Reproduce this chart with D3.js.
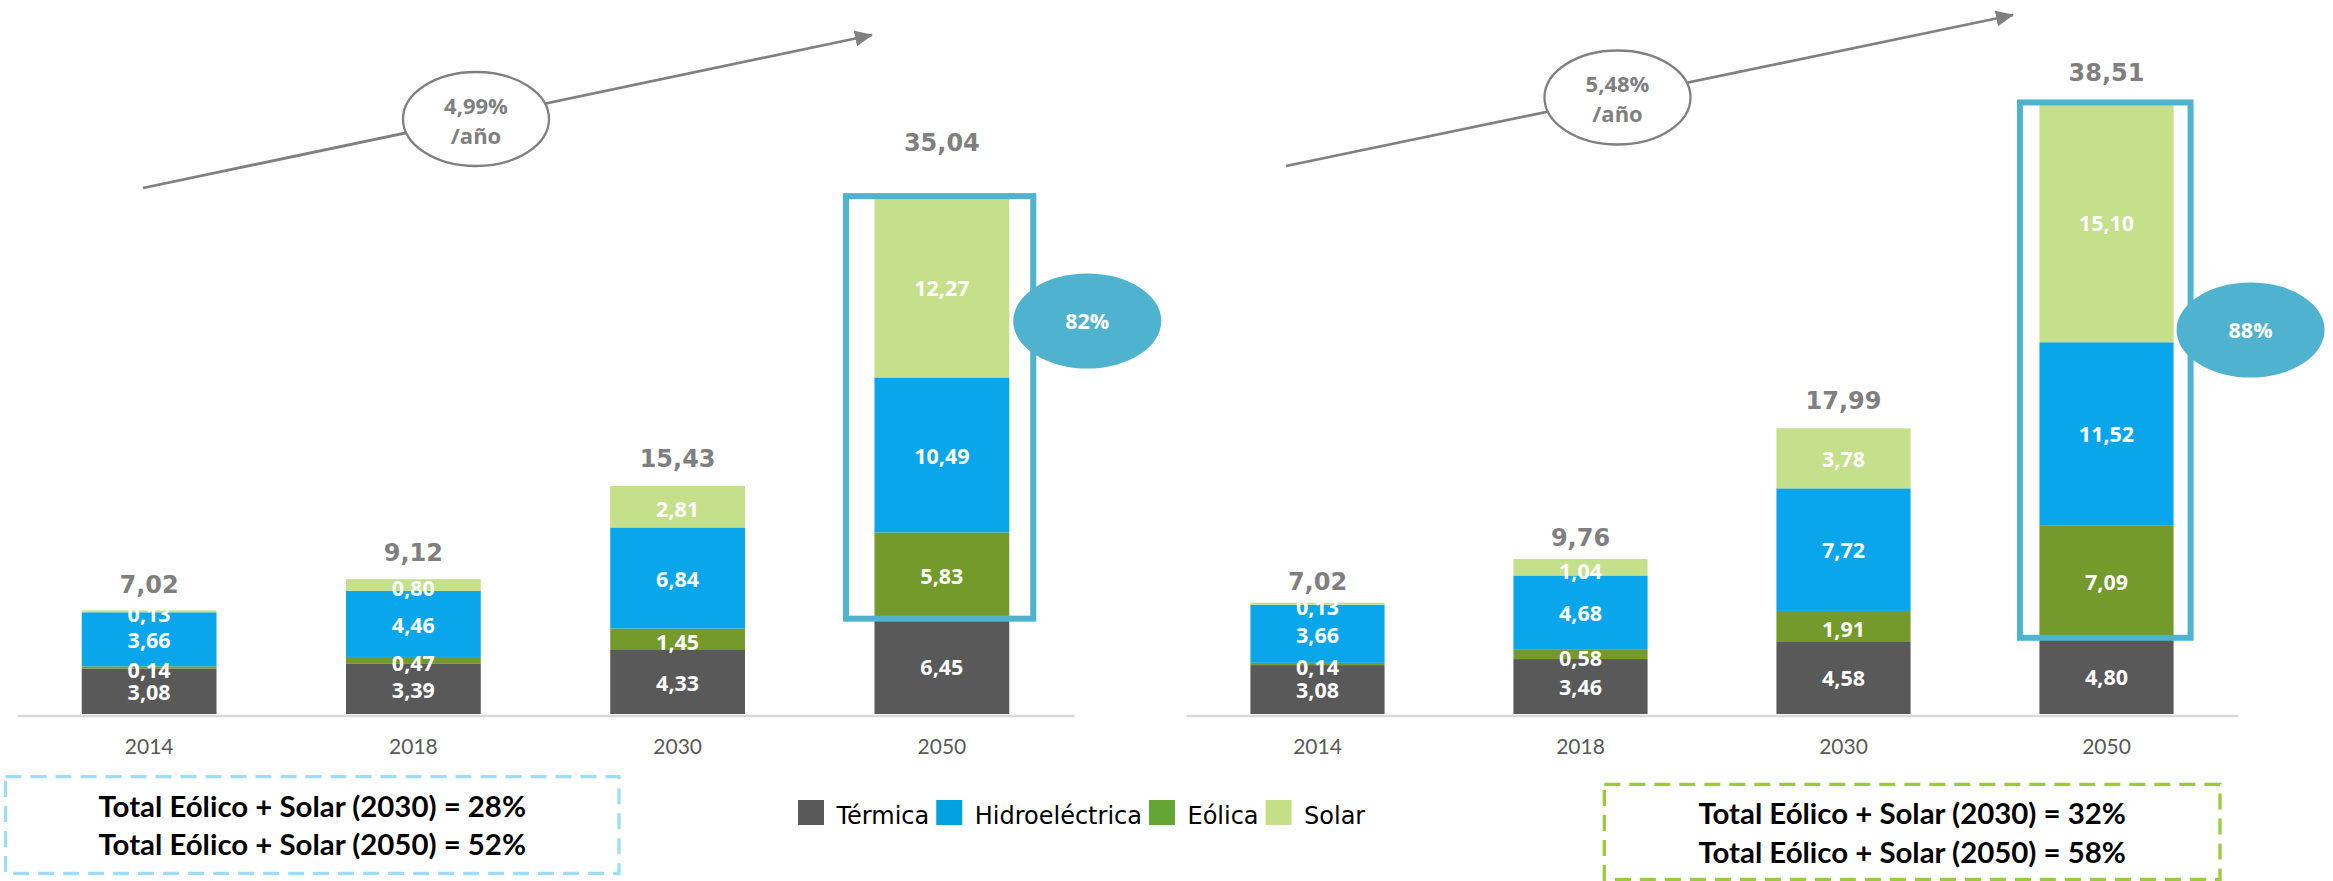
<!DOCTYPE html>
<html>
<head>
<meta charset="utf-8">
<script src="https://cdn.jsdelivr.net/npm/d3@7"></script>
<style>
  html, body { margin: 0; padding: 0; background: #fff; }
  svg { display: block; }
</style>
</head>
<body>
<svg id="chart" width="2333" height="881"></svg>
<script>
// ---------------- DATA ----------------
const years = ["2014", "2018", "2030", "2050"];
const seriesKeys = ["Térmica", "Eólica", "Hidroeléctrica", "Solar"];   // stack order (bottom → top)
const legendKeys = ["Térmica", "Hidroeléctrica", "Eólica", "Solar"];   // legend order

// Scenario A (left)
const termicaA = [3.08, 3.39, 4.33, 6.45];
const eolicaA  = [0.14, 0.47, 1.45, 5.83];
const hidroA   = [3.66, 4.46, 6.84, 10.49];
const solarA   = [0.13, 0.80, 2.81, 12.27];
const totalsA  = [7.02, 9.12, 15.43, 35.04];
const growthA  = ["4,99%", "/año"];
const shareA   = "82%";
const boxTextA = ["Total Eólico + Solar (2030) = 28%", "Total Eólico + Solar (2050) = 52%"];

// Scenario B (right)
const termicaB = [3.08, 3.46, 4.58, 4.80];
const eolicaB  = [0.14, 0.58, 1.91, 7.09];
const hidroB   = [3.66, 4.68, 7.72, 11.52];
const solarB   = [0.13, 1.04, 3.78, 15.10];
const totalsB  = [7.02, 9.76, 17.99, 38.51];
const growthB  = ["5,48%", "/año"];
const shareB   = "88%";
const boxTextB = ["Total Eólico + Solar (2030) = 32%", "Total Eólico + Solar (2050) = 58%"];

// ---------------- STYLE ----------------
const barColors = { "Térmica": "#595959", "Hidroeléctrica": "#0AA6EB", "Eólica": "#739A2B", "Solar": "#C4E08A" };
const legendColors = { "Térmica": "#595959", "Hidroeléctrica": "#00A1E0", "Eólica": "#65A535", "Solar": "#C4DF88" };
const accent = "#4FB3D0";
const greyText = "#7F7F7F";

const locale = d3.formatLocale({ decimal: ",", thousands: ".", grouping: [3], currency: ["", "€"] });
const fmt = locale.format(".2f");

const svg = d3.select("#chart");

function buildRows(t, e, h, s) {
  return years.map((y, i) => ({ year: y, "Térmica": t[i], "Eólica": e[i], "Hidroeléctrica": h[i], "Solar": s[i] }));
}

function drawChart(cfg) {
  const g = svg.append("g");
  const rows = buildRows(cfg.t, cfg.e, cfg.h, cfg.s);
  const x = d3.scaleBand().domain(years).range(cfg.xRange).paddingInner(0.49).paddingOuter(0.245);
  const y = d3.scaleLinear().domain([0, 40]).range([cfg.base, cfg.base - 40 * cfg.pxPerUnit]);
  const stacked = d3.stack().keys(seriesKeys)(rows);

  // baseline axis
  const axis = d3.axisBottom(x).tickSize(0).tickPadding(0).tickFormat(d => d);
  const ax = g.append("g").attr("transform", `translate(0,${cfg.base + 1.5})`).call(axis);
  ax.select(".domain").attr("stroke", "#D9D9D9").attr("stroke-width", 2.5);
  ax.selectAll(".tick text")
    .attr("y", 0).attr("dy", 0)
    .attr("transform", "translate(0,38.5)")
    .style("font-family", "Lato, 'Open Sans', sans-serif")
    .style("font-size", "21px")
    .style("fill", "#595959");

  // bars
  stacked.forEach(layer => {
    g.append("g").selectAll("rect").data(layer).join("rect")
      .attr("x", d => x(d.data.year))
      .attr("width", x.bandwidth())
      .attr("y", d => y(d[1]))
      .attr("height", d => y(d[0]) - y(d[1]))
      .attr("fill", barColors[layer.key]);
  });
  // segment labels
  stacked.forEach(layer => {
    g.append("g").selectAll("text").data(layer).join("text")
      .attr("x", d => x(d.data.year) + x.bandwidth() / 2)
      .attr("y", d => (y(d[0]) + y(d[1])) / 2 + cfg.labelShift(d))
      .attr("dy", "0.36em")
      .attr("text-anchor", "middle")
      .style("font-family", "'Open Sans', sans-serif")
      .style("font-weight", 700)
      .style("font-size", "21.5px")
      .style("fill", "#fff")
      .text(d => fmt(d.data[layer.key]));
  });

  // totals
  g.append("g").selectAll("text").data(years).join("text")
    .attr("x", d => x(d) + x.bandwidth() / 2)
    .attr("y", (d, i) => y(d3.sum(seriesKeys, k => rows[i][k])) - cfg.totalLift[i] + 8.7)
    .attr("text-anchor", "middle")
    .style("font-family", "'DejaVu Sans', Verdana, sans-serif")
    .style("font-weight", 700)
    .style("font-size", "24px")
    .style("fill", greyText)
    .text((d, i) => fmt(cfg.totals[i]));

  // highlight box around 2050 renewables
  const last = rows[rows.length - 1];
  const xl = x("2050");
  const topV = d3.sum(seriesKeys, k => last[k]);
  g.append("rect")
    .attr("x", xl - cfg.boxPad[0])
    .attr("y", y(topV))
    .attr("width", x.bandwidth() + cfg.boxPad[0] + cfg.boxPad[1])
    .attr("height", y(last["Térmica"]) - y(topV))
    .attr("fill", "none")
    .attr("stroke", accent)
    .attr("stroke-width", 6);

  // share ellipse
  const ecx = xl + x.bandwidth() + cfg.ellipse.dx;
  g.append("ellipse")
    .attr("cx", ecx).attr("cy", cfg.ellipse.cy)
    .attr("rx", 74).attr("ry", 47.5)
    .attr("fill", accent);
  g.append("text")
    .attr("x", ecx).attr("y", cfg.ellipse.cy)
    .attr("dy", "0.36em")
    .attr("text-anchor", "middle")
    .style("font-family", "'Open Sans', sans-serif")
    .style("font-weight", 700)
    .style("font-size", "21.5px")
    .style("fill", "#fff")
    .text(cfg.share);

  // growth arrow
  const a = cfg.arrow;
  g.append("line")
    .attr("x1", a.x1).attr("y1", a.y1).attr("x2", a.x2).attr("y2", a.y2)
    .attr("stroke", "#808080").attr("stroke-width", 2.8)
    .attr("marker-end", "url(#arrowHead)");
  g.append("ellipse")
    .attr("cx", a.cx).attr("cy", a.cy).attr("rx", 73).attr("ry", 47)
    .attr("fill", "#fff").attr("stroke", "#808080").attr("stroke-width", 2.3);
  g.append("g").selectAll("text").data(cfg.growth).join("text")
    .attr("x", a.cx)
    .attr("y", (d, i) => a.cy + (i === 0 ? -13 : 17))
    .attr("dy", "0.36em")
    .attr("text-anchor", "middle")
    .style("font-family", "'Open Sans', sans-serif")
    .style("font-weight", 700)
    .style("font-size", "22px")
    .style("fill", greyText)
    .text(d => d);

  // dashed summary box
  const b = cfg.sumBox;
  g.append("rect")
    .attr("x", b.x0).attr("y", b.y0)
    .attr("width", b.x1 - b.x0).attr("height", b.y1 - b.y0)
    .attr("fill", "none")
    .attr("stroke", b.color).attr("stroke-width", 3.3)
    .attr("stroke-dasharray", "16,9");
  g.append("g").selectAll("text").data(cfg.boxText).join("text")
    .attr("x", (b.x0 + b.x1) / 2)
    .attr("y", (d, i) => b.base + i * 38.5)
    .attr("text-anchor", "middle")
    .style("font-family", "Lato, 'Open Sans', sans-serif")
    .style("font-weight", 700)
    .style("font-size", "29.4px")
    .style("fill", "#000")
    .text(d => d);
}

// arrow marker
svg.append("defs").append("marker")
  .attr("id", "arrowHead")
  .attr("viewBox", "0 0 18 16")
  .attr("refX", 17).attr("refY", 8)
  .attr("markerUnits", "userSpaceOnUse")
  .attr("markerWidth", 18).attr("markerHeight", 16)
  .attr("orient", "auto")
  .append("path").attr("d", "M0,0 L18,8 L0,16 Z").attr("fill", "#808080");

drawChart({
  t: termicaA, e: eolicaA, h: hidroA, s: solarA, totals: totalsA,
  xRange: [17, 1074], base: 714, pxPerUnit: 14.78,
  labelShift: d => (d[1] - d[0] > 3 ? 1 : 3),
  totalLift: [26, 27, 28, 54],
  boxPad: [28.5, 24],
  ellipse: { dx: 78, cy: 321 },
  share: shareA,
  arrow: { x1: 143, y1: 188, x2: 872, y2: 35, cx: 476, cy: 119 },
  growth: growthA,
  sumBox: { x0: 5.5, y0: 776.7, x1: 619, y1: 873.3, color: "#9EDDF8", base: 816.5 },
  boxText: boxTextA
});

drawChart({
  t: termicaB, e: eolicaB, h: hidroB, s: solarB, totals: totalsB,
  xRange: [1186, 2238], base: 714, pxPerUnit: 15.88,
  labelShift: d => (d[1] - d[0] > 3 ? 1 : 3.5),
  totalLift: [21, 22, 28, 30],
  boxPad: [19.5, 17],
  ellipse: { dx: 77, cy: 330 },
  share: shareB,
  arrow: { x1: 1286, y1: 166, x2: 2013, y2: 15, cx: 1617.5, cy: 97.5 },
  growth: growthB,
  sumBox: { x0: 1604.3, y0: 784.3, x1: 2220, y1: 879.5, color: "#9BCB3B", base: 824 },
  boxText: boxTextB
});

// legend
const legend = svg.append("g").attr("class", "legend");
let lx = 798;
legendKeys.forEach(k => {
  legend.append("rect").attr("x", lx).attr("y", 800).attr("width", 26).attr("height", 25).attr("fill", legendColors[k]);
  const t = legend.append("text")
    .attr("x", lx + 38.5).attr("y", 824)
    .style("font-family", "'DejaVu Sans', Verdana, sans-serif")
    .style("font-size", "24px")
    .style("fill", "#000")
    .text(k);
  lx = lx + 38.5 + t.node().getComputedTextLength() + 7;
});
</script>
</body>
</html>
